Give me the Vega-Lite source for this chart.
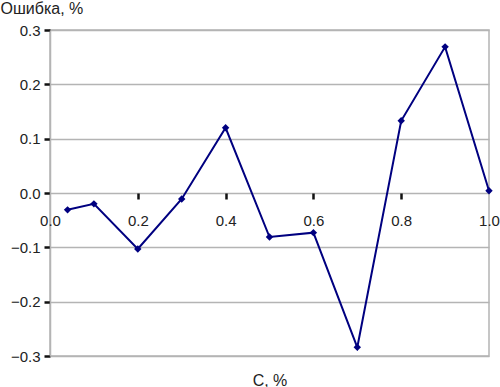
{
  "$schema": "https://vega.github.io/schema/vega-lite/v6.json",
  "autosize": {"type": "none"},
  "padding": {"left": 50, "top": 30, "right": 11, "bottom": 31},
  "width": 439,
  "height": 326,
  "background": "white",
  "config": {
    "view": {"stroke": "#b4b4b4", "strokeWidth": 1.5},
    "font": "Liberation Sans"
  },
  "data": {
    "values": [
      {"c": 0.04, "err": -0.031},
      {"c": 0.10, "err": -0.020},
      {"c": 0.20, "err": -0.103},
      {"c": 0.30, "err": -0.011},
      {"c": 0.40, "err": 0.120},
      {"c": 0.50, "err": -0.081},
      {"c": 0.60, "err": -0.073},
      {"c": 0.70, "err": -0.284},
      {"c": 0.80, "err": 0.133},
      {"c": 0.90, "err": 0.269},
      {"c": 1.00, "err": 0.004}
    ]
  },
  "encoding": {
    "x": {
      "field": "c",
      "type": "quantitative",
      "scale": {"domain": [0, 1], "nice": false, "zero": false},
      "axis": {
        "values": [0, 0.2, 0.4, 0.6, 0.8, 1.0],
        "format": ".1f",
        "offset": -163,
        "zindex": 1,
        "domain": false,
        "grid": false,
        "labelFlush": false,
        "ticks": true,
        "tickSize": 6,
        "tickWidth": 2.5,
        "tickCap": "butt",
        "tickColor": {"condition": {"test": "datum.value < 0.1 || datum.value > 0.9", "value": "transparent"}, "value": "#111111"},
        "labelPadding": 14,
        "labelFontSize": 15,
        "labelColor": "#222222",
        "title": "C, %",
        "titleFontSize": 16,
        "titleFontWeight": "normal",
        "titleColor": "#222222",
        "titleBaseline": "alphabetic",
        "titleY": 192
      }
    },
    "y": {
      "field": "err",
      "type": "quantitative",
      "scale": {"domain": [-0.3, 0.3], "nice": false, "zero": false},
      "axis": {
        "values": [-0.3, -0.2, -0.1, 0, 0.1, 0.2, 0.3],
        "format": ".1f",
        "grid": true,
        "gridColor": "#b4b4b4",
        "gridWidth": 1.5,
        "gridOpacity": 1,
        "domainColor": "#b4b4b4",
        "domainWidth": 1.5,
        "tickColor": "#111111",
        "tickSize": 6,
        "tickWidth": 2.5,
        "tickCap": "butt",
        "labelPadding": 4,
        "labelFontSize": 15,
        "labelColor": "#222222",
        "title": "Ошибка, %",
        "titleAngle": 0,
        "titleAlign": "left",
        "titleBaseline": "alphabetic",
        "titleX": -50,
        "titleY": -17,
        "titleFontSize": 16,
        "titleFontWeight": "normal",
        "titleColor": "#222222"
      }
    }
  },
  "layer": [
    {"mark": {"type": "line", "color": "#000080", "strokeWidth": 2}},
    {"mark": {"type": "point", "shape": "diamond", "filled": true, "color": "#000080", "opacity": 1, "size": 55}}
  ]
}
